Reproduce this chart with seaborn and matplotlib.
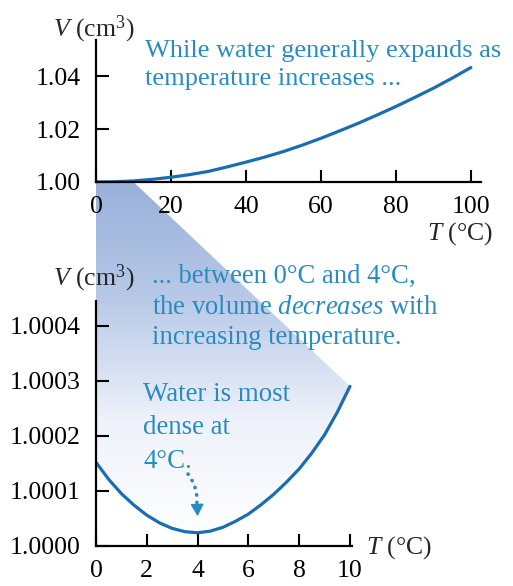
import numpy as np
import seaborn as sns
import matplotlib
matplotlib.use('Agg')
import matplotlib.pyplot as plt
from matplotlib.colors import LinearSegmentedColormap
from matplotlib.patches import Polygon

# Dados
temp_full = [0, 5, 10, 15, 20, 25, 30, 35, 40, 45, 50,
             55, 60, 65, 70, 75, 80, 85, 90, 95, 100]
vol_full = [1.0000, 1.0001, 1.0004, 1.0010, 1.0018, 1.0028, 1.0040, 1.0057, 1.0075, 1.0094, 1.0115,
            1.0139, 1.0165, 1.0193, 1.0222, 1.0253, 1.0285, 1.0319, 1.0354, 1.0392, 1.0432]

temp_zoom = [0, 0.5, 1, 1.5, 2, 2.5, 3, 3.5, 4, 4.5, 5,
             5.5, 6, 6.5, 7, 7.5, 8, 8.5, 9, 9.5, 10]
vol_zoom = [1.000152, 1.000121, 1.000095, 1.000074, 1.000056, 1.000042, 1.000032, 1.000026, 1.000024,
            1.000027, 1.000034, 1.000045, 1.000058, 1.000075, 1.000094, 1.000116, 1.000140,
            1.000169, 1.000202, 1.000243, 1.000290]

ticks_full_x = [0, 20, 40, 60, 80, 100]
ticks_full_y = [1.00, 1.02, 1.04]
labels_full_y = ['1.00', '1.02', '1.04']
ticks_zoom_x = [0, 2, 4, 6, 8, 10]
ticks_zoom_y = [1.0000, 1.0001, 1.0002, 1.0003, 1.0004]
labels_zoom_y = ['1.0000', '1.0001', '1.0002', '1.0003', '1.0004']

curve_color = '#1a6db0'
text_color = '#2a8bc0'

sns.set_style('ticks')
plt.rcParams['font.family'] = ['Liberation Serif', 'DejaVu Serif']
plt.rcParams['mathtext.fontset'] = 'custom'
plt.rcParams['mathtext.rm'] = 'Liberation Serif'
plt.rcParams['mathtext.it'] = 'Liberation Serif:italic'

W, H = 513, 586
fig = plt.figure(figsize=(W / 100, H / 100), dpi=100)

def fx(px):
    return px / W

def fy(py):
    return 1 - py / H

# fundo com o degrade
bg = fig.add_axes([0, 0, 1, 1], zorder=0)
bg.set_xlim(0, 1)
bg.set_ylim(0, 1)
bg.axis('off')

ax1 = fig.add_axes([fx(96), fy(182), fx(481) - fx(96), fy(40) - fy(182)], zorder=1)
ax2 = fig.add_axes([fx(96), fy(546), fx(352) - fx(96), fy(301) - fy(546)], zorder=1)

ax1.set_xlim(0, 102.7)
ax1.set_ylim(1.0, 1.0536)
ax2.set_xlim(0, 10.08)
ax2.set_ylim(1.0, 1.000445)

sns.lineplot(x=temp_full, y=vol_full, ax=ax1, color=curve_color, lw=2.3)
sns.lineplot(x=temp_zoom, y=vol_zoom, ax=ax2, color=curve_color, lw=2.3)

for ax in (ax1, ax2):
    ax.set_facecolor('none')
    ax.set_xlabel('')
    ax.set_ylabel('')
    for s in ('top', 'right'):
        ax.spines[s].set_visible(False)
    for s in ('left', 'bottom'):
        ax.spines[s].set_linewidth(1.6)
        ax.spines[s].set_color('black')
    ax.tick_params(direction='in', length=9, width=1.5, labelsize=18.5, colors='black')
    ax.tick_params(axis='x', pad=10)
    ax.tick_params(axis='y', pad=11)

ax1.set_xticks(ticks_full_x)
ax1.set_yticks(ticks_full_y, labels_full_y)
ax2.set_xticks(ticks_zoom_x)
ax2.set_yticks(ticks_zoom_y, labels_zoom_y)

# poligono do "zoom" (0-10 graus)
to_fig = fig.transFigure.inverted()
pts = [ax1.transData.transform((0, 1.0)), ax1.transData.transform((10, 1.0))]
for t, v in zip(temp_zoom[::-1], vol_zoom[::-1]):
    pts.append(ax2.transData.transform((t, v)))
pts = to_fig.transform(np.array(pts))
wedge = Polygon(pts, closed=True, transform=fig.transFigure, facecolor='none', edgecolor='none')
bg.add_patch(wedge)

cmap = LinearSegmentedColormap.from_list('fade', ['#ffffff', '#eef2fa', '#b9cae8', '#98b0da'])
grad = np.linspace(0, 1, 256).reshape(-1, 1)
im = bg.imshow(grad, cmap=cmap, aspect='auto', origin='lower',
               extent=[0, 1, fy(540), fy(182)], transform=bg.transAxes)
im.set_clip_path(wedge)

# rotulos dos eixos
fig.text(fx(53), fy(29), r'$V$ (cm$^3$)', fontsize=18.5, ha='left', va='center')
fig.text(fx(493), fy(234), r'$T$ ($\degree$C)', fontsize=18.5, ha='right', va='center')
fig.text(fx(53), fy(278), r'$V$ (cm$^3$)', fontsize=18.5, ha='left', va='center')
fig.text(fx(366), fy(548), r'$T$ ($\degree$C)', fontsize=18.5, ha='left', va='center')

# anotacoes
fig.text(fx(145), fy(65), 'While water generally expands as\ntemperature increases ...',
         fontsize=19, color=text_color, ha='left', va='center', linespacing=1.33)
fig.text(fx(152), fy(307), '... between 0°C and 4°C,\nthe volume $decreases$ with\nincreasing temperature.',
         fontsize=19.2, color=text_color, ha='left', va='center', linespacing=1.27)
fig.text(fx(143), fy(428), 'Water is most\ndense at\n4°C.',
         fontsize=19.4, color=text_color, ha='left', va='center', linespacing=1.45)

# seta pontilhada ate o minimo
ax2.annotate('', xy=(3.97, 1.000076), xycoords='data',
             xytext=(fx(188), fy(474)), textcoords='figure fraction',
             arrowprops=dict(arrowstyle='-', color=text_color,
                             lw=2.6, ls=(0, (0.1, 2.0)), capstyle='round',
                             shrinkA=0, shrinkB=0,
                             connectionstyle='arc3,rad=-0.2'))
ax2.annotate('', xy=(4, 1.000054), xycoords='data',
             xytext=(-0.3, 8), textcoords='offset points',
             arrowprops=dict(arrowstyle='-|>,head_length=0.55,head_width=0.3', color=text_color,
                             lw=1.2, shrinkA=0, shrinkB=0, mutation_scale=13))

fig.savefig('out.png', dpi=100)
